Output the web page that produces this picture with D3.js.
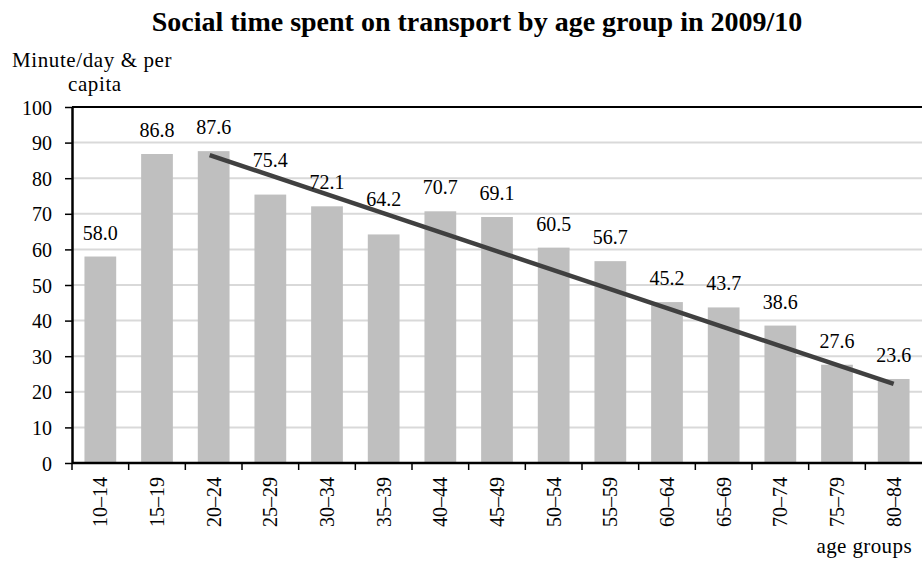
<!DOCTYPE html>
<html>
<head>
<meta charset="utf-8">
<script src="https://cdn.jsdelivr.net/npm/d3@7"></script>
<style>
  body { margin: 0; background: #fff; }
  svg text { font-family: "Liberation Serif", "DejaVu Serif", serif; fill: #000; }
</style>
</head>
<body>
<div id="chart"></div>
<script>
// age groups and minutes per day
const ageGroups = ["10–14","15–19","20–24","25–29","30–34","35–39","40–44","45–49","50–54","55–59","60–64","65–69","70–74","75–79","80–84"];
const minutes = [58.0, 86.8, 87.6, 75.4, 72.1, 64.2, 70.7, 69.1, 60.5, 56.7, 45.2, 43.7, 38.6, 27.6, 23.6];
const yTicks = [0, 10, 20, 30, 40, 50, 60, 70, 80, 90, 100];
// trend line: from 20–24 to 80–84
const trendGroups = ["20–24", "80–84"];
const trendValues = [86.5, 22.2];

// a few labels sit higher in the original (moved off the trend line)
const liftedLabels = ["25–29", "35–39"];

const W = 923, H = 562;
const margin = { left: 72, right: 1, top: 107, bottom: 99 };
const width = W - margin.left - margin.right;
const height = H - margin.top - margin.bottom;
const FONT = '"Liberation Serif", "DejaVu Serif", serif';

const svg = d3.select("#chart").append("svg")
  .attr("width", W).attr("height", H)
  .style("font-family", FONT);

svg.append("text")
  .attr("x", 477).attr("y", 31)
  .attr("text-anchor", "middle")
  .style("font-size", "28px").style("font-weight", "bold")
  .text("Social time spent on transport by age group in 2009/10");

svg.append("text").attr("x", 12).attr("y", 67)
  .style("font-size", "21px").style("letter-spacing", "0.6px").text("Minute/day & per");
svg.append("text").attr("x", 68).attr("y", 91)
  .style("font-size", "21px").style("letter-spacing", "0.6px").text("capita");

svg.append("text").attr("x", 912).attr("y", 553)
  .attr("text-anchor", "end")
  .style("font-size", "21px").style("letter-spacing", "0.4px").text("age groups");

const g = svg.append("g")
  .attr("transform", "translate(" + margin.left + "," + margin.top + ")");

const x = d3.scaleBand().domain(ageGroups).range([0, width]).paddingInner(0.44).paddingOuter(0.22);
const y = d3.scaleLinear().domain([0, 100]).range([height, 0]);

// gridlines
g.selectAll(".grid")
  .data(yTicks.filter(d => d > 0))
  .enter().append("line")
  .attr("x1", 0).attr("x2", width)
  .attr("y1", d => y(d)).attr("y2", d => y(d))
  .attr("stroke", d => d === 100 ? "#000" : "#d9d9d9")
  .attr("stroke-width", 2);

// bars
g.selectAll(".bar")
  .data(minutes)
  .enter().append("rect")
  .attr("class", "bar")
  .attr("x", (d, i) => x(ageGroups[i]))
  .attr("y", d => y(d))
  .attr("width", x.bandwidth())
  .attr("height", d => height - y(d))
  .attr("fill", "#bfbfbf");

// trend line
g.append("line")
  .attr("x1", x(trendGroups[0]) + x.bandwidth() / 2 - 4)
  .attr("y1", y(trendValues[0]))
  .attr("x2", x(trendGroups[1]) + x.bandwidth() / 2)
  .attr("y2", y(trendValues[1]))
  .attr("stroke", "#404040")
  .attr("stroke-width", 4.5);

// value labels
g.selectAll(".val")
  .data(minutes)
  .enter().append("text")
  .attr("x", (d, i) => x(ageGroups[i]) + x.bandwidth() / 2)
  .attr("y", (d, i) => y(d) - (liftedLabels.includes(ageGroups[i]) ? 28 : 17))
  .attr("text-anchor", "middle")
  .style("font-size", "20px")
  .text(d => d.toFixed(1));

// y axis
const yAxis = g.append("g")
  .call(d3.axisLeft(y).tickValues(yTicks).tickSize(7).tickSizeOuter(0).tickPadding(13));
yAxis.attr("font-family", null);
yAxis.select(".domain").attr("stroke", "#000").attr("stroke-width", 2.5);
yAxis.selectAll(".tick line").attr("stroke", "#000").attr("stroke-width", 1.5);
yAxis.selectAll("text").style("font-size", "20px").attr("dy", "0.35em");

// x axis with ticks between categories
const xAxis = g.append("g").attr("transform", "translate(0," + height + ")");
xAxis.append("line")
  .attr("x1", 0).attr("x2", width)
  .attr("stroke", "#000").attr("stroke-width", 2.5);
const step = x.step();
xAxis.selectAll(".xtick")
  .data(ageGroups)
  .enter().append("line")
  .attr("x1", (d, i) => i * step).attr("x2", (d, i) => i * step)
  .attr("y1", 0).attr("y2", 7)
  .attr("stroke", "#000").attr("stroke-width", 1.5);
xAxis.selectAll(".xlab")
  .data(ageGroups)
  .enter().append("text")
  .attr("transform", d => "translate(" + (x(d) + x.bandwidth() / 2 + 7) + ",14) rotate(-90)")
  .attr("text-anchor", "end")
  .style("font-size", "20px")
  .text(d => d);
</script>
</body>
</html>
